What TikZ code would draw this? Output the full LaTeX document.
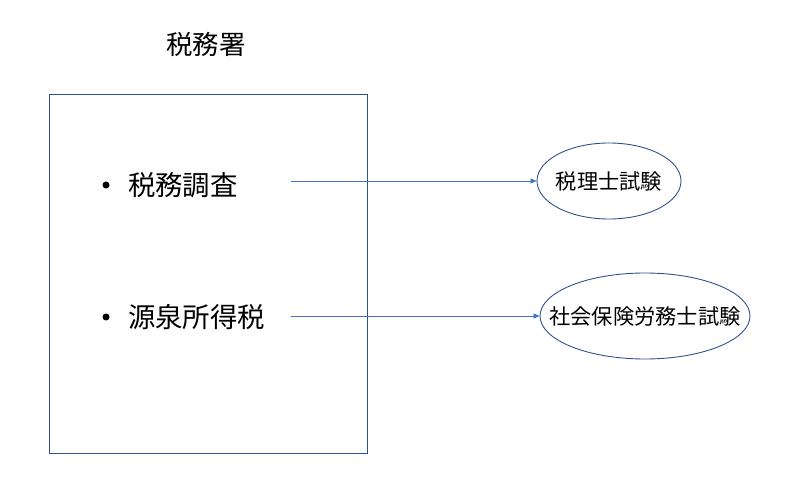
\documentclass[tikz,border=0pt]{standalone}
\usepackage{fontspec}
\newfontfamily\cjk{Noto Sans CJK JP}
\usetikzlibrary{arrows.meta,shapes.geometric}
\definecolor{boxblue}{HTML}{2F528F}
\definecolor{arrowblue}{HTML}{4472C4}
\tikzset{
  framebox/.style={draw=boxblue, line width=0.9bp},
  oval/.style={draw=boxblue, line width=0.9bp, ellipse, inner xsep=-40bp, inner ysep=0pt, font=\cjk\fontsize{21.3}{24}\selectfont},
  link/.style={draw=arrowblue, line width=0.8bp, -{Triangle[length=6bp,width=5bp]}},
  itemtext/.style={font=\cjk\fontsize{27.5}{30}\selectfont, anchor=west, inner sep=0pt},
  dot/.style={circle, fill=black, inner sep=0pt, minimum size=7bp},
}
\begin{document}
\begin{tikzpicture}[x=1bp,y=-1bp]
\useasboundingbox (0,0) rectangle (789,486);
\node[font=\cjk\fontsize{26.5}{30}\selectfont] (title) at (206,44) {税務署};
\draw[framebox] (49,94) rectangle (367,453);
\node[dot] (b1) at (106,185) {};
\node[itemtext] (t1) at (128,185) {税務調査};
\node[dot] (b2) at (106,317) {};
\node[itemtext] (t2) at (128,317) {源泉所得税};
\node[oval, minimum width=144bp, minimum height=76bp] (e1) at (609,181) {税理士試験};
\node[oval, minimum width=210bp, minimum height=86bp] (e2) at (645,316) {社会保険労務士試験};
\coordinate (s1) at (291,181);
\coordinate (s2) at (291,316);
\draw[link] (s1) -- (e1.west);
\draw[link] (s2) -- (e2.west);
\end{tikzpicture}
\end{document}
